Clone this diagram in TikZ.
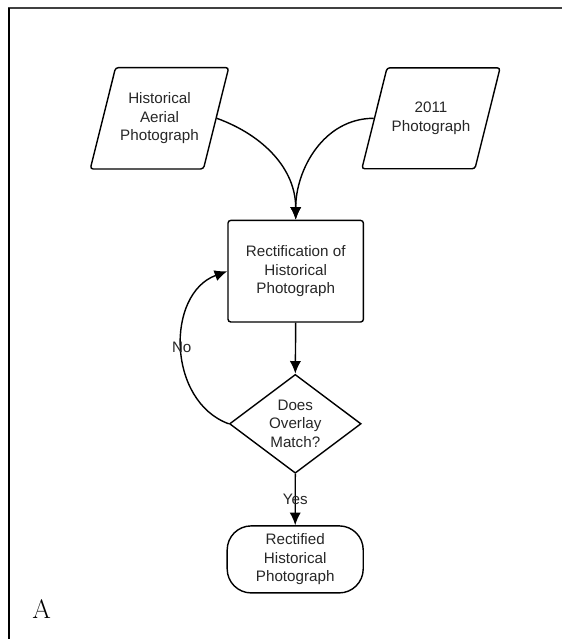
\documentclass[tikz,border=0pt]{standalone}
\usepackage{fontspec}
\newfontfamily\flowfont{Liberation Sans}
\usetikzlibrary{shapes.geometric,arrows.meta}

\tikzset{
  flowtext/.style={font=\flowfont\fontsize{10.8}{13.1}\selectfont,text=black!85,align=center},
  box/.style={draw=black,line width=1pt,flowtext},
  photo/.style={box,trapezium,trapezium left angle=76,trapezium right angle=104,
    trapezium stretches body,minimum width=3.35cm,rounded corners=2pt},
  arr/.style={line width=1pt,-{Latex[length=9pt,width=8pt]}}
}

\begin{document}
\begin{tikzpicture}[x=0.025cm,y=-0.025cm]
  \useasboundingbox (0,0) rectangle (562,639);

  % --- page frame ---
  \draw[line width=1.5pt,black!75] (8,8) -- (562,8);
  \draw[line width=1.8pt] (9,8) -- (9,639);

  % --- inputs ---
  \node[photo,inner ysep=17.9pt] (hist) at (159.5,118.3) {Historical\\Aerial\\Photograph};
  \node[photo,inner ysep=24.45pt] (modern) at (431,118.3) {2011\\Photograph};

  % --- process ---
  \node[box,rounded corners=2pt,minimum width=3.385cm,minimum height=2.54cm] (rect) at (295.7,271.2) {Rectification of\\Historical\\Photograph};

  % --- decision ---
  \node[box,diamond,aspect=1.33,inner sep=0pt,minimum width=3.29cm,minimum height=2.47cm] (match) at (295.3,423.8) {Does\\Overlay\\Match?};

  % --- output ---
  \node[box,rounded corners=0.6cm,minimum width=3.4cm,minimum height=1.675cm] (result) at (295.2,559.4) {Rectified\\Historical\\Photograph};

  % --- panel letter ---
  \node[font=\fontsize{19}{22}\selectfont] (panel) at (41.6,609) {A};

  % --- connectors ---
  \draw[arr] (hist.east) to[out=-20,in=90] (rect.north);
  \draw[arr] (modern.west) to[out=180,in=90] (rect.north);
  \draw[arr] (rect.south) -- (match.north);
  \draw[arr] (match.west) to[out=160,in=200,looseness=1.1] node[flowtext] {No} (rect.west);
  \draw[arr] (match.south) -- node[flowtext] {Yes} (result.north);

\end{tikzpicture}
\end{document}
